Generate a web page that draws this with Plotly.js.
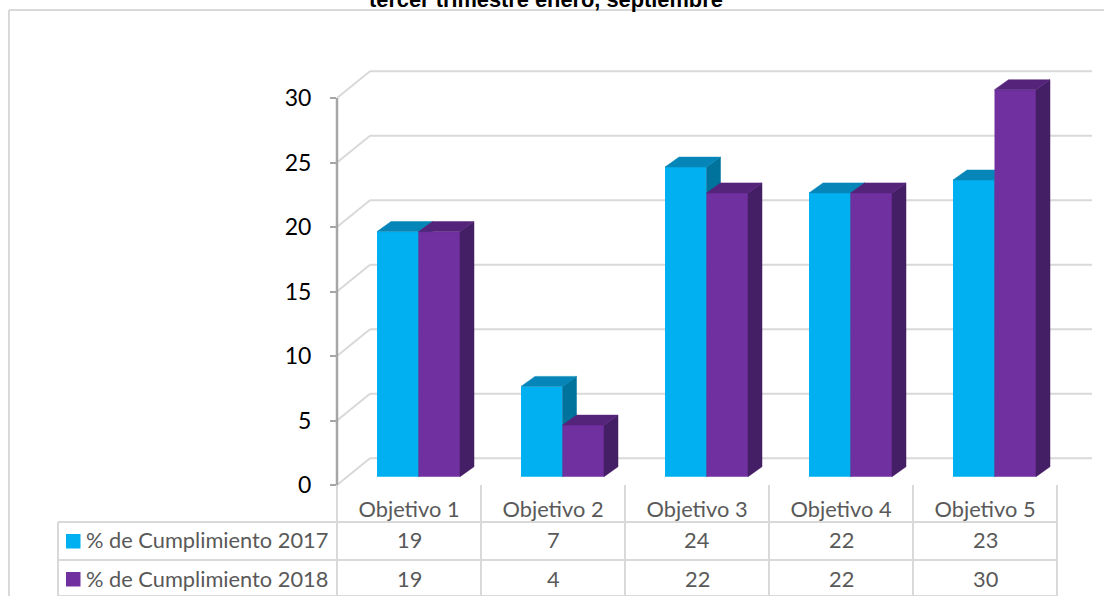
<!DOCTYPE html>
<html>
<head>
<meta charset="utf-8">
<script src="https://cdn.plot.ly/plotly-3.0.1.min.js"></script>
<style>html,body{margin:0;padding:0;background:#fff;overflow:hidden}</style>
</head>
<body>
<div id="chart" style="width:1104px;height:596px"></div>
<script>
const categories = ["Objetivo 1", "Objetivo 2", "Objetivo 3", "Objetivo 4", "Objetivo 5"];
const seriesNames = ["% de Cumplimiento 2017", "% de Cumplimiento 2018"];
const values2017 = [19, 7, 24, 22, 23];
const values2018 = [19, 4, 22, 22, 30];
const yTicks = [0, 5, 10, 15, 20, 25, 30];

// frame of the plot in page pixels
const W = 1104, H = 596, L = 337, R = 1092, T = 61, B = 485;
const catPx = 144, valPx = 12.9;
const xRange = [-0.5, -0.5 + (R - L) / catPx];
const yRange = [0, (B - T) / valPx];
const px = x => (x - L) / (R - L);
const py = y => (B - y) / (B - T);

// 3D look, expressed in axis units
const barW = 41.5 / catPx, barShift = 9.5 / catPx;
const baseVal = 8.3 / valPx;
const depthX = 14 / catPx, depthY = 10 / valPx;
const wallX = 33, wallY = 2.07;

const idx = categories.map((_, i) => i);
const centers2017 = idx.map(i => i + barShift - barW / 2);
const centers2018 = idx.map(i => i + barShift + barW / 2);

function sideFace(centers, vals) {
  const xs = [], ys = [];
  vals.forEach((v, i) => {
    const x1 = centers[i] + barW / 2, top = v + baseVal;
    xs.push(x1, x1 + depthX, x1 + depthX, x1, x1, null);
    ys.push(baseVal, baseVal + depthY, top + depthY, top, baseVal, null);
  });
  return {x: xs, y: ys};
}
function topFace(centers, vals) {
  const xs = [], ys = [];
  vals.forEach((v, i) => {
    const x0 = centers[i] - barW / 2, x1 = centers[i] + barW / 2, top = v + baseVal;
    xs.push(x0, x0 + depthX, x1 + depthX, x1, x0, null);
    ys.push(top, top + depthY, top + depthY, top, top, null);
  });
  return {x: xs, y: ys};
}
function poly(face, color, xa, ya) {
  return {type: "scatter", mode: "lines", x: face.x, y: face.y, xaxis: xa, yaxis: ya,
          fill: "toself", fillcolor: color, line: {color: color, width: 0.5},
          hoverinfo: "skip", showlegend: false};
}
function bars(centers, vals, color, name, xa, ya) {
  return {type: "bar", x: centers, y: vals, base: baseVal, width: barW, name: name,
          xaxis: xa, yaxis: ya, marker: {color: color, line: {width: 0}}, showlegend: false};
}

const traces = [
  bars(centers2017, values2017, "#00B0F0", seriesNames[0], "x", "y"),
  poly(sideFace(centers2017, values2017), "#00739C", "x", "y"),
  poly(topFace(centers2017, values2017), "#0686B8", "x", "y"),
  bars(centers2018, values2018, "#7030A0", seriesNames[1], "x2", "y2"),
  poly(sideFace(centers2018, values2018), "#451F66", "x2", "y2"),
  poly(topFace(centers2018, values2018), "#54247A", "x2", "y2")
];

const gridColor = "#D9D9D9", tableColor = "#D9D9D9";
const shapes = [];
const line = (x0, y0, x1, y1, xref, yref, color, width) => shapes.push({
  type: "line", x0, y0, x1, y1, xref, yref, layer: "below", line: {color, width}});

// back wall grid and its diagonals
yTicks.forEach(t => {
  line(px(L + wallX), t + wallY, 1, t + wallY, "paper", "y", gridColor, 2);
  line(0, t, px(L + wallX), t + wallY, "paper", "y", gridColor, 2);
});
// value axis
line(0, yTicks[0], 0, yTicks[yTicks.length - 1], "paper", "y", "#A6A6A6", 2.5);

// outer frame
line(px(9), py(10), px(W), py(10), "paper", "paper", gridColor, 2);
line(px(9), py(10), px(9), py(H), "paper", "paper", gridColor, 2);

// data table rules
const rowY = [522, 560, 596];
rowY.forEach(y => line(px(58), py(y), px(L + catPx * categories.length), py(y), "paper", "paper", tableColor, 2));
line(px(58), py(522), px(58), py(596), "paper", "paper", tableColor, 2);
for (let i = 0; i <= categories.length; i++) {
  line(px(L + catPx * i), py(485), px(L + catPx * i), py(596), "paper", "paper", tableColor, 2);
}
// legend keys
const keyColors = ["#00B0F0", "#7030A0"];
[534, 572].forEach((y, i) => shapes.push({
  type: "rect", xref: "paper", yref: "paper", x0: px(66), x1: px(80.5), y0: py(y), y1: py(y + 14.5),
  line: {width: 0}, fillcolor: keyColors[i]}));

const tableFont = {family: "Lato, sans-serif", size: 21.8, color: "#595959"};
const annotations = [];
[values2017, values2018].forEach((vals, r) => {
  const yc = py([539.5, 578.5][r]);
  annotations.push({xref: "paper", yref: "paper", x: px(84), y: yc, xanchor: "left", yanchor: "middle",
    showarrow: false, text: seriesNames[r], font: tableFont});
  vals.forEach((v, i) => annotations.push({xref: "x", yref: "paper", x: i, y: yc, xanchor: "center", yanchor: "middle",
    showarrow: false, text: String(v), font: tableFont}));
});
annotations.push({xref: "paper", yref: "paper", x: px(546), y: py(14), xanchor: "center", yanchor: "bottom",
  showarrow: false, text: "<b>tercer trimestre enero, septiembre</b>",
  font: {family: "Liberation Sans, Arial, sans-serif", size: 21.8, color: "#000"}});

const layout = {
  width: W, height: H, showlegend: false, barmode: "overlay",
  paper_bgcolor: "#fff", plot_bgcolor: "rgba(0,0,0,0)",
  margin: {l: L, r: W - R, t: T, b: H - B, pad: 0},
  xaxis: {range: xRange, tickmode: "array", tickvals: idx, ticktext: categories, showgrid: false, zeroline: false,
          showline: false, ticks: "outside", ticklen: 5, tickcolor: "rgba(0,0,0,0)",
          tickfont: tableFont},
  yaxis: {range: yRange, tickmode: "array", tickvals: yTicks, showgrid: false, zeroline: false, showline: false,
          ticks: "outside", ticklen: 6, tickwidth: 1.5, tickcolor: "#A6A6A6", ticklabelstandoff: 14,
          tickfont: {family: "Lato, sans-serif", size: 23, color: "#000"}},
  xaxis2: {range: xRange, overlaying: "x", visible: false},
  yaxis2: {range: yRange, overlaying: "y", visible: false},
  shapes: shapes, annotations: annotations
};
Plotly.newPlot("chart", traces, layout, {displayModeBar: false, responsive: false});
</script>
</body>
</html>
